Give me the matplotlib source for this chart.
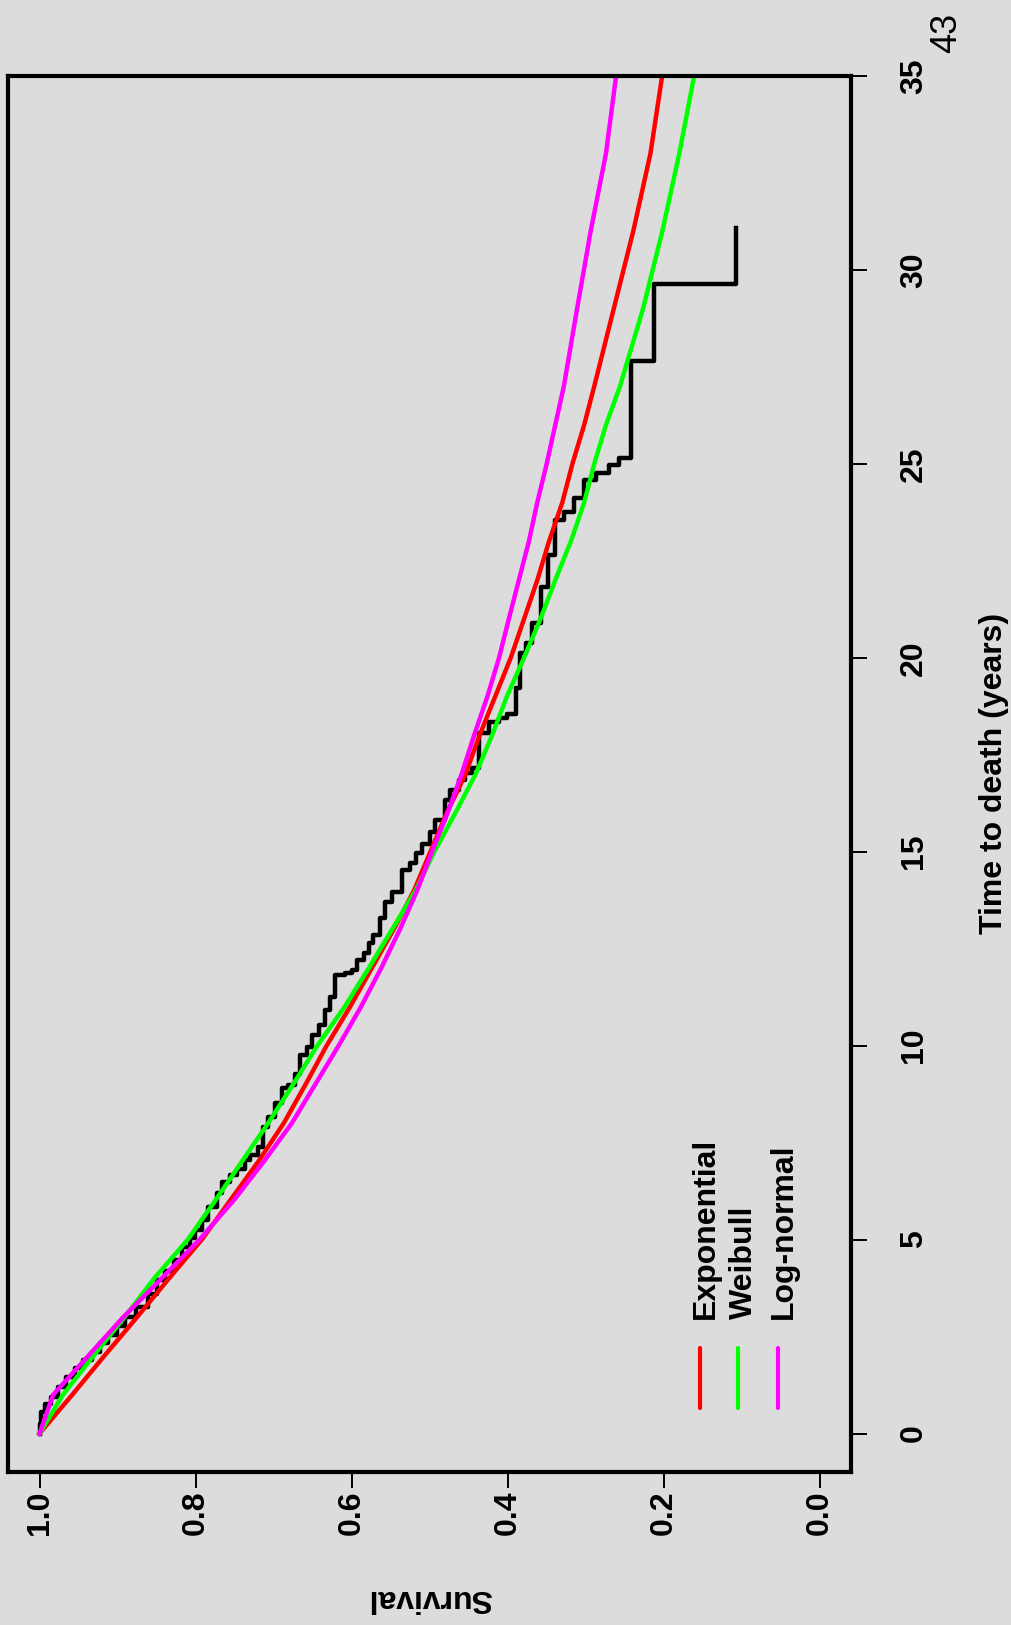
import matplotlib
matplotlib.use('Agg')
import matplotlib.pyplot as plt

plt.rcParams['font.family'] = ['Liberation Sans', 'DejaVu Sans']

# Kaplan-Meier estimate: event times (years) and survival just after each event
km_time = [0.25, 0.55, 0.75, 0.95, 1.20, 1.47, 1.70, 1.90, 2.10, 2.33, 2.55, 2.76,
           3.00, 3.27, 3.60, 3.96, 4.20, 4.47, 4.80, 5.03, 5.25, 5.50, 5.85, 6.19,
           6.49, 6.66, 6.83, 7.05, 7.18, 7.39, 7.91, 8.17, 8.51, 8.90, 8.98, 9.28,
           9.76, 9.97, 10.27, 10.53, 10.92, 11.26, 11.82, 11.88, 11.95, 12.21, 12.38,
           12.64, 12.85, 13.28, 13.71, 13.97, 14.53, 14.70, 14.96, 15.21, 15.52, 15.81,
           16.33, 16.60, 16.85, 17.02, 17.15, 18.05, 18.35, 18.44, 18.55, 19.21, 20.11,
           20.37, 20.90, 21.83, 22.64, 23.55, 23.76, 24.11, 24.58, 24.75, 24.96, 25.16,
           27.64, 29.63]
km_surv = [0.9975, 0.993, 0.985, 0.976, 0.966, 0.955, 0.944, 0.933, 0.922, 0.912, 0.901, 0.8905,
           0.876, 0.861, 0.850, 0.839, 0.828, 0.818, 0.807, 0.8007, 0.7921, 0.7836, 0.7729, 0.7665,
           0.7558, 0.7472, 0.7365, 0.7301, 0.7194, 0.7130, 0.7066, 0.6980, 0.6895, 0.6809, 0.6723, 0.6659,
           0.6574, 0.6510, 0.6424, 0.6338, 0.6273, 0.6209, 0.6081, 0.5996, 0.5932, 0.5846, 0.5780,
           0.5730, 0.5632, 0.5568, 0.5483, 0.5354, 0.5250, 0.5180, 0.5100, 0.4990, 0.4926, 0.4797,
           0.4733, 0.4627, 0.4541, 0.4455, 0.4370, 0.4241, 0.4113, 0.4006, 0.3891, 0.3847, 0.3762,
           0.3685, 0.3578, 0.3480, 0.3394, 0.3279, 0.3150, 0.3022, 0.2872, 0.2701, 0.2573, 0.2423,
           0.2123, 0.1075]
km_end = 31.07

# fitted parametric curves
fit_time = [0, 1, 2, 3, 4, 5, 6, 7, 8, 9, 10, 11, 12, 13, 14, 15, 16, 17, 18, 19, 20,
            21, 22, 23, 24, 25, 26, 27, 29, 31, 33, 35]
surv_exp = [1.0, 0.958, 0.917, 0.875, 0.834, 0.792, 0.756, 0.720, 0.687, 0.659, 0.632,
            0.602, 0.574, 0.546, 0.520, 0.499, 0.478, 0.454, 0.436, 0.416, 0.396,
            0.379, 0.362, 0.347, 0.330, 0.317, 0.302, 0.289, 0.264, 0.239, 0.217, 0.202]
surv_weib = [1.0, 0.970, 0.931, 0.891, 0.853, 0.810, 0.775, 0.741, 0.707, 0.675, 0.644,
             0.609, 0.578, 0.548, 0.518, 0.494, 0.467, 0.441, 0.420, 0.401, 0.379,
             0.358, 0.339, 0.319, 0.302, 0.289, 0.274, 0.256, 0.2265, 0.2017, 0.180, 0.161]
surv_lnorm = [1.0, 0.9825, 0.9376, 0.8927, 0.8435, 0.795, 0.7515, 0.713, 0.6766, 0.6466, 0.6166,
              0.588, 0.562, 0.538, 0.516, 0.497, 0.477, 0.459, 0.443, 0.426, 0.411,
              0.3985, 0.3857, 0.3728, 0.3621, 0.350, 0.339, 0.328, 0.311, 0.2936, 0.274, 0.261]

legend_names = ['Exponential', 'Weibull', 'Log-normal']
legend_colors = ['#ff0000', '#00ff00', '#ff00ff']
legend_x = [0.153, 0.1045, 0.0535]

surv_ticks = [1.0, 0.8, 0.6, 0.4, 0.2, 0.0]
time_ticks = [0, 5, 10, 15, 20, 25, 30, 35]

bg = '#dcdcdc'
fs = 23

fig = plt.figure(figsize=(10.12, 16.25), dpi=100, facecolor=bg)
ax = fig.add_axes([0.0082, 0.0942, 0.8327, 0.8591])
ax.set_facecolor(bg)

# the page is turned: survival runs across, time runs up
ax.step([1.0] + km_surv + [km_surv[-1]], [0] + km_time + [km_end], where='pre',
        color='black', lw=3.2)
ax.plot(surv_exp, fit_time, color='#ff0000', lw=3.2)
ax.plot(surv_weib, fit_time, color='#00ff00', lw=3.2)
ax.plot(surv_lnorm, fit_time, color='#ff00ff', lw=3.2)

# legend
for name, col, lx in zip(legend_names, legend_colors, legend_x):
    ax.plot([lx, lx], [0.67, 2.21], color=col, lw=3, solid_capstyle='round')
    ax.annotate(name, xy=(lx, 2.95), xytext=(4, 0), textcoords='offset points',
                rotation=90, ha='center', va='bottom', fontsize=fs, fontweight='bold')

ax.set_xlim(1.04, -0.04)
ax.set_ylim(-0.99, 35.0)

ax.set_xticks(surv_ticks)
ax.set_xticklabels(['%.1f' % v for v in surv_ticks], rotation=90, fontweight='bold')
ax.tick_params(axis='x', direction='out', length=11.5, width=1.4, pad=2, labelsize=fs)

ax.yaxis.tick_right()
ax.set_yticks(time_ticks)
ax.set_yticklabels([str(v) for v in time_ticks], rotation=90, va='center', fontweight='bold')
ax.tick_params(axis='y', direction='out', length=11.5, width=1.4, pad=23, labelsize=fs)

ax.yaxis.set_label_position('right')
ax.set_ylabel('Time to death (years)', rotation=90, fontsize=fs, fontweight='bold', labelpad=36)
ax.set_xlabel('Survival', rotation=180, fontsize=fs, fontweight='bold', labelpad=34)

for sp in ax.spines.values():
    sp.set_linewidth(3)

fig.text(0.9358, 0.9797, '43', rotation=90, fontsize=26, ha='center', va='center')

fig.savefig('out.png', dpi=100, facecolor=bg)
